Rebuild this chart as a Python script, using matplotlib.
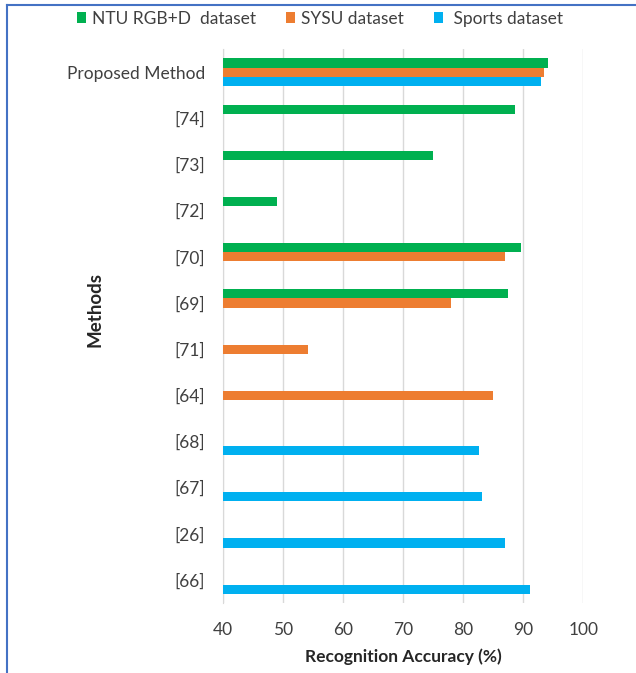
import matplotlib
matplotlib.use('Agg')
import matplotlib.pyplot as plt
from matplotlib.patches import Patch
from matplotlib.lines import Line2D
import numpy as np

plt.rcParams['font.family'] = ['Lato', 'DejaVu Sans']

# Phương pháp (từ trên xuống) và độ chính xác của từng bộ dữ liệu
methods = ['Proposed Method', '[74]', '[73]', '[72]', '[70]', '[69]',
           '[71]', '[64]', '[68]', '[67]', '[26]', '[66]']
nan = np.nan
ntu = [94.1, 88.6, 75.0, 48.9, 89.7, 87.4, nan, nan, nan, nan, nan, nan]
sysu = [93.4, nan, nan, nan, 87.0, 78.0, 54.2, 84.9, nan, nan, nan, nan]
sports = [92.9, nan, nan, nan, nan, nan, nan, nan, 82.6, 83.1, 87.0, 91.1]

series = [('NTU RGB+D  dataset', ntu, '#00B050', -0.2),
          ('SYSU dataset', sysu, '#ED7D31', 0.0),
          (' Sports dataset', sports, '#00B0F0', 0.2)]

fig = plt.figure(figsize=(6.36, 6.73), dpi=100)
ax = fig.add_axes([0.351, 0.104, 0.566, 0.823])

y = np.arange(len(methods))
for name, vals, color, off in series:
    vals = np.array(vals, dtype=float)
    ok = ~np.isnan(vals)
    ax.barh(y[ok] + off, vals[ok], height=0.2, color=color, zorder=3)

ax.set_xlim(40, 100)
ax.set_ylim(len(methods) - 0.5, -0.5)
ax.set_xticks(np.arange(40, 101, 10))
ax.set_yticks(y)
ax.set_yticklabels(methods)
ax.grid(axis='x', color='#D9D9D9', linewidth=1, zorder=0)
for s in ['top', 'right', 'bottom']:
    ax.spines[s].set_visible(False)
ax.spines['left'].set_color('#D9D9D9')
ax.tick_params(length=0, labelsize=12.5, colors='#404040', pad=13)
ax.tick_params(axis='x', pad=14)

ax.set_xlabel('Recognition Accuracy (%)', fontsize=12.5, fontweight='bold',
              color='#262626', labelpad=7)
ax.set_ylabel('Methods', fontsize=13.5, fontweight='bold', color='#262626')
ax.yaxis.set_label_coords(-0.334, 0.53)

handles = [Patch(facecolor=c, label=n) for n, _, c, _ in series]
fig.legend(handles=handles, loc='center', bbox_to_anchor=(0.503, 0.972), ncol=3,
           frameon=False, fontsize=12.5, handlelength=0.55, handleheight=0.55,
           handletextpad=0.35, columnspacing=1.7, labelcolor='#404040')

# khung viền xanh quanh hình
fig.add_artist(Line2D([0.011, 1.0], [0.993, 0.993], color='#4472C4', lw=1.5))
fig.add_artist(Line2D([0.011, 0.011], [0.0, 0.993], color='#4472C4', lw=1.5))

fig.savefig('out.png', dpi=100)
